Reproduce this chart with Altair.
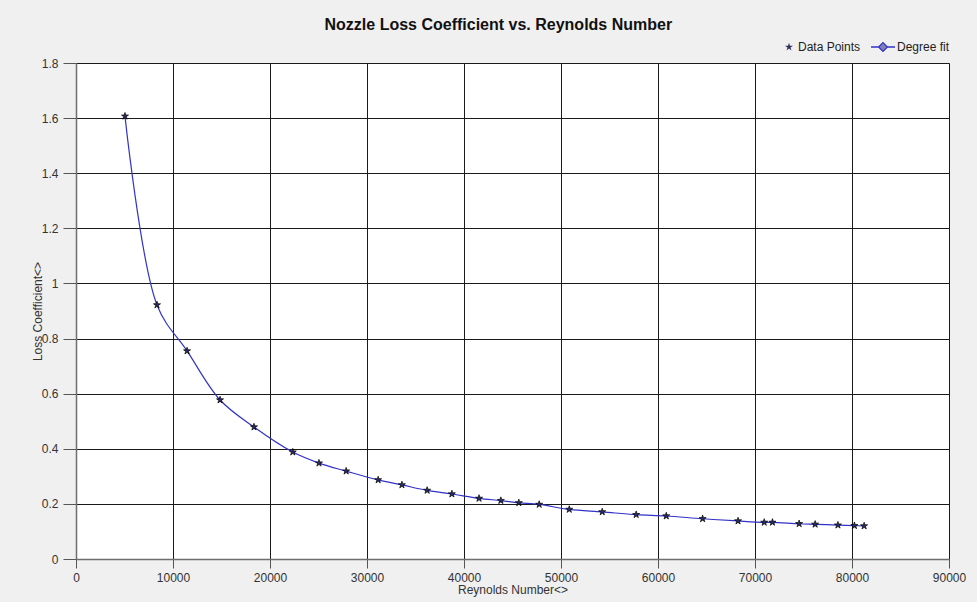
import altair as alt
import pandas as pd

# Data
reynolds = [5050, 8350, 11450, 14850, 18350, 22350, 25050, 27850, 31150, 33600,
            36200, 38750, 41550, 43800, 45650, 47750, 50850, 54250, 57750, 60850,
            64600, 68250, 70950, 71800, 74550, 76200, 78550, 80250, 81250]
loss_coef = [1.607, 0.922, 0.755, 0.577, 0.479, 0.388, 0.348, 0.319, 0.287, 0.269,
             0.249, 0.236, 0.220, 0.212, 0.204, 0.198, 0.180, 0.171, 0.161, 0.156,
             0.146, 0.138, 0.133, 0.133, 0.128, 0.126, 0.123, 0.121, 0.120]

x_ticks = [0, 10000, 20000, 30000, 40000, 50000, 60000, 70000, 80000, 90000]
y_ticks = [0, 0.2, 0.4, 0.6, 0.8, 1.0, 1.2, 1.4, 1.6, 1.8]

df = pd.DataFrame({"re": reynolds, "k": loss_coef})

FONT = "Liberation Sans"
STAR = ("M0,-1L0.225,-0.309L0.951,-0.309L0.363,0.118L0.588,0.809L0,0.382"
        "L-0.588,0.809L-0.363,0.118L-0.951,-0.309L-0.225,-0.309Z")
LINE_DIAMOND = "M-3,0L-1.1,0M1.1,0L3,0M0,-1.1L1.1,0L0,1.1L-1.1,0Z"

x_enc = alt.X("re:Q", scale=alt.Scale(domain=[0, 90000], nice=False, zero=True),
              axis=alt.Axis(values=x_ticks, format="d", title="Reynolds Number<>",
                            tickSize=9, labelPadding=4, titlePadding=1,
                            labelFlush=False))
y_enc = alt.Y("k:Q", scale=alt.Scale(domain=[0, 1.8], nice=False),
              axis=alt.Axis(values=y_ticks, format="~g", title="Loss Coefficient<>",
                            tickSize=13, labelPadding=5,
                            titleX=-39, titleY=248, titleBaseline="middle",
                            titleAlign="center"))

line = alt.Chart(df).transform_calculate(fit="'Degree fit'").mark_line(
    strokeWidth=1.2, interpolate="catmull-rom"
).encode(
    x=x_enc, y=y_enc,
    color=alt.Color("fit:N", scale=alt.Scale(domain=["Degree fit"], range=["#3232c8"]),
                    legend=alt.Legend(title=None, orient="none", legendX=801, legendY=-22,
                                      symbolType=LINE_DIAMOND, symbolSize=64,
                                      symbolStrokeWidth=1.3, symbolFillColor="#8080b8",
                                      symbolStrokeColor="#2a2a70",
                                      labelOffset=8, labelFontSize=12, labelFont=FONT,
                                      labelColor="#222"))
)

points = alt.Chart(df).transform_calculate(series="'Data Points'").mark_point(
    filled=True, fill="#2e2e5e", stroke="black", strokeWidth=0.7, size=55, opacity=1
).encode(
    x=x_enc, y=y_enc,
    shape=alt.Shape("series:N", scale=alt.Scale(domain=["Data Points"], range=[STAR]),
                    legend=alt.Legend(title=None, orient="none", legendX=707, legendY=-22,
                                      symbolSize=70, symbolFillColor="#2e2e5e",
                                      symbolStrokeColor="black", symbolStrokeWidth=0.7,
                                      labelOffset=3, labelFontSize=12, labelFont=FONT,
                                      labelColor="#222"))
)

chart = alt.layer(line, points).properties(
    width=873, height=496,
    autosize=alt.AutoSizeParams(type="none"),
    padding={"left": 76, "top": 63, "right": 28, "bottom": 43},
    background="#f0f0f0",
    title=alt.TitleParams("Nozzle Loss Coefficient vs. Reynolds Number",
                          font=FONT, fontSize=16, fontWeight="bold", color="#111",
                          anchor="middle", frame="bounds", offset=8),
).configure_view(
    fill="white", stroke="#a8a8a8", strokeWidth=1
).configure_axis(
    grid=True, gridColor="#1a1a1a", gridWidth=1, gridOpacity=1,
    domainColor="#6e6e6e", domainWidth=1.5, tickColor="#555", tickWidth=1,
    labelFont=FONT, labelFontSize=12, labelColor="#333",
    titleFont=FONT, titleFontSize=12, titleFontWeight="normal", titleColor="#333"
)

chart.save("out.html", embed_options={"renderer": "svg", "actions": False})
